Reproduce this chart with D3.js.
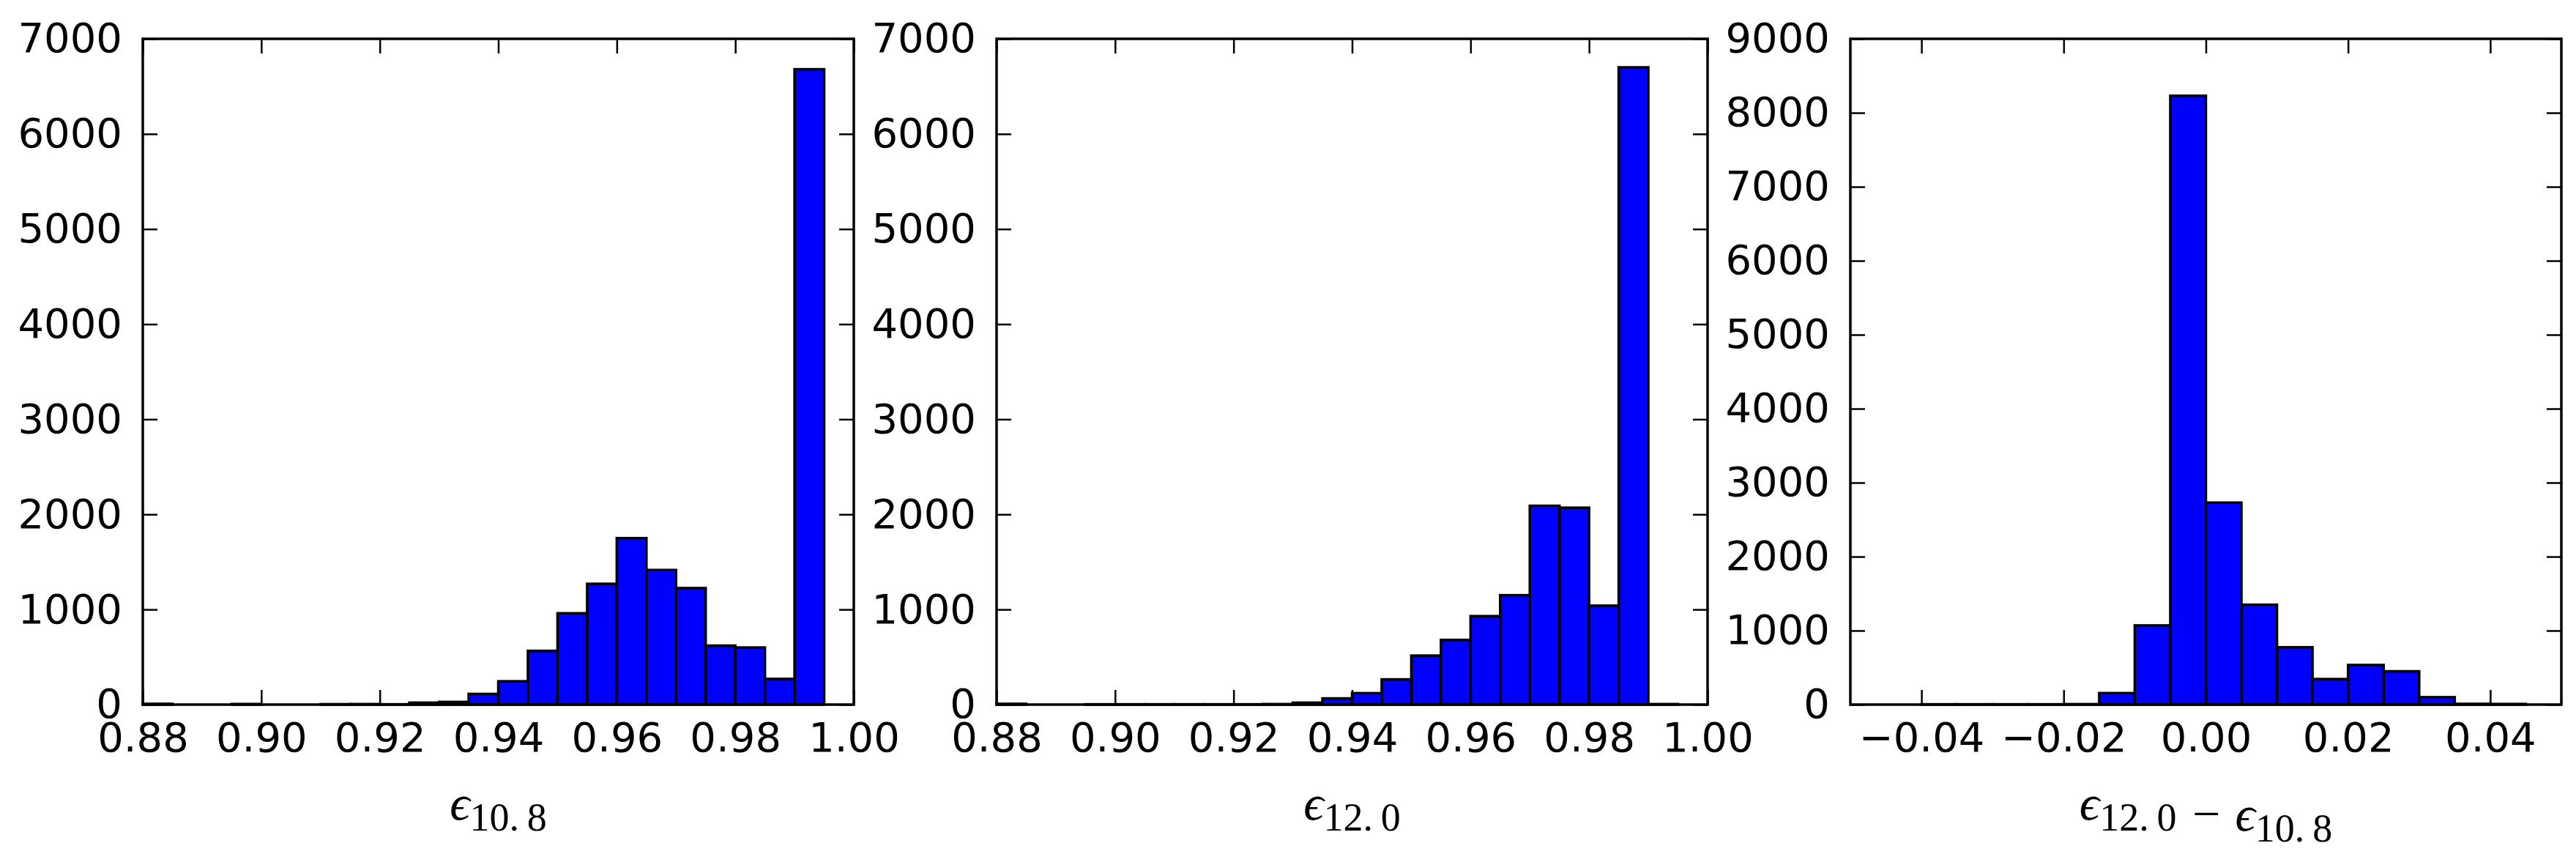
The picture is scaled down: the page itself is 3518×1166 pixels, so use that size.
<!DOCTYPE html>
<html>
<head>
<meta charset="utf-8">
<script src="https://cdn.jsdelivr.net/npm/d3@7"></script>
<style>
  body { margin: 0; background: #fff; }
  .tick text { font-family: "DejaVu Sans", sans-serif; font-size: 56px; fill: #000; }
  .tick line { stroke: #000; stroke-width: 2.5; }
</style>
</head>
<body>
<div class="chart"></div>
<script>
const binWidth = 0.005;

const e108Start = 0.88;
const e108Counts = [8, 0, 0, 6, 0, 0, 4, 5, 3, 20, 28, 112, 245, 565, 960, 1270, 1750, 1415, 1225, 620, 600, 270, 6680];

const e120Start = 0.88;
const e120Counts = [8, 0, 0, 3, 3, 3, 3, 3, 3, 5, 20, 65, 120, 265, 515, 680, 930, 1150, 2090, 2070, 1040, 6700, 5];

const diffStart = -0.04;
const diffCounts = [4, 4, 4, 4, 6, 155, 1070, 8230, 2730, 1350, 775, 345, 535, 450, 100, 10, 8];

const epsTicks = [0.88, 0.90, 0.92, 0.94, 0.96, 0.98, 1.00];
const diffTicks = [-0.04, -0.02, 0.00, 0.02, 0.04];
const countTicks7 = [0, 1000, 2000, 3000, 4000, 5000, 6000, 7000];
const countTicks9 = [0, 1000, 2000, 3000, 4000, 5000, 6000, 7000, 8000, 9000];

const width = 971, height = 909, marginTop = 53;

const svg = d3.select(".chart").append("svg")
  .attr("width", 3518)
  .attr("height", 1166)
  .style("background", "#fff");

const fmt = v => d3.format(".2f")(v).replace("-", "\u2212");

function panel(left, start, counts, xDomain, xTicks, yMax, yTicks, label) {
  const g = svg.append("g")
    .attr("transform", "translate(" + left + "," + marginTop + ")");

  const x = d3.scaleLinear().domain(xDomain).range([0, width]);
  const y = d3.scaleLinear().domain([0, yMax]).range([height, 0]);

  const bins = counts.map((c, i) => ({x0: start + i * binWidth, x1: start + (i + 1) * binWidth, n: c}));

  g.selectAll("rect.bar")
    .data(bins)
    .enter()
    .append("rect")
    .attr("class", "bar")
    .attr("x", d => x(d.x0))
    .attr("y", d => y(d.n))
    .attr("width", d => x(d.x1) - x(d.x0))
    .attr("height", d => y(0) - y(d.n))
    .attr("fill", "#0000ff")
    .attr("stroke", "#000")
    .attr("stroke-width", 3.5);

  // inward ticks on all four sides
  g.append("g")
    .attr("transform", "translate(0," + height + ")")
    .call(d3.axisBottom(x).tickValues(xTicks).tickSize(-20).tickPadding(24).tickFormat(fmt))
    .call(a => a.select(".domain").remove());

  g.append("g")
    .call(d3.axisTop(x).tickValues(xTicks).tickSize(-20).tickFormat(""))
    .call(a => a.select(".domain").remove());

  g.append("g")
    .call(d3.axisLeft(y).tickValues(yTicks).tickSize(-20).tickPadding(28).tickFormat(d3.format("d")))
    .call(a => a.select(".domain").remove());

  g.append("g")
    .attr("transform", "translate(" + width + ",0)")
    .call(d3.axisRight(y).tickValues(yTicks).tickSize(-20).tickFormat(""))
    .call(a => a.select(".domain").remove());

  g.selectAll(".tick text").attr("fill", "#000");

  g.append("rect")
    .attr("width", width)
    .attr("height", height)
    .attr("fill", "none")
    .attr("stroke", "#000")
    .attr("stroke-width", 3.5);

  const t = g.append("text")
    .attr("x", width / 2)
    .attr("y", 1066)
    .attr("text-anchor", "middle")
    .attr("font-family", "'Liberation Serif', 'DejaVu Serif', serif")
    .attr("fill", "#000");

  label.forEach(part => {
    if (part.sub) {
      t.append("tspan").attr("font-size", 54).attr("dy", 15).text(part.sub);
      t.append("tspan").attr("font-size", 68).attr("dy", -15).text("");
    } else {
      t.append("tspan").attr("font-size", 68).attr("font-style", "italic").text(part.main);
    }
  });
}

panel(195, e108Start, e108Counts, [0.88, 1.00], epsTicks, 7000, countTicks7,
  [{main: "\u03f5"}, {sub: "10.\u20098"}]);

panel(1361, e120Start, e120Counts, [0.88, 1.00], epsTicks, 7000, countTicks7,
  [{main: "\u03f5"}, {sub: "12.\u20090"}]);

panel(2527, diffStart, diffCounts, [-0.05, 0.05], diffTicks, 9000, countTicks9,
  [{main: "\u03f5"}, {sub: "12.\u20090"}, {main: " \u2212 \u03f5"}, {sub: "10.\u20098"}]);
</script>
</body>
</html>
